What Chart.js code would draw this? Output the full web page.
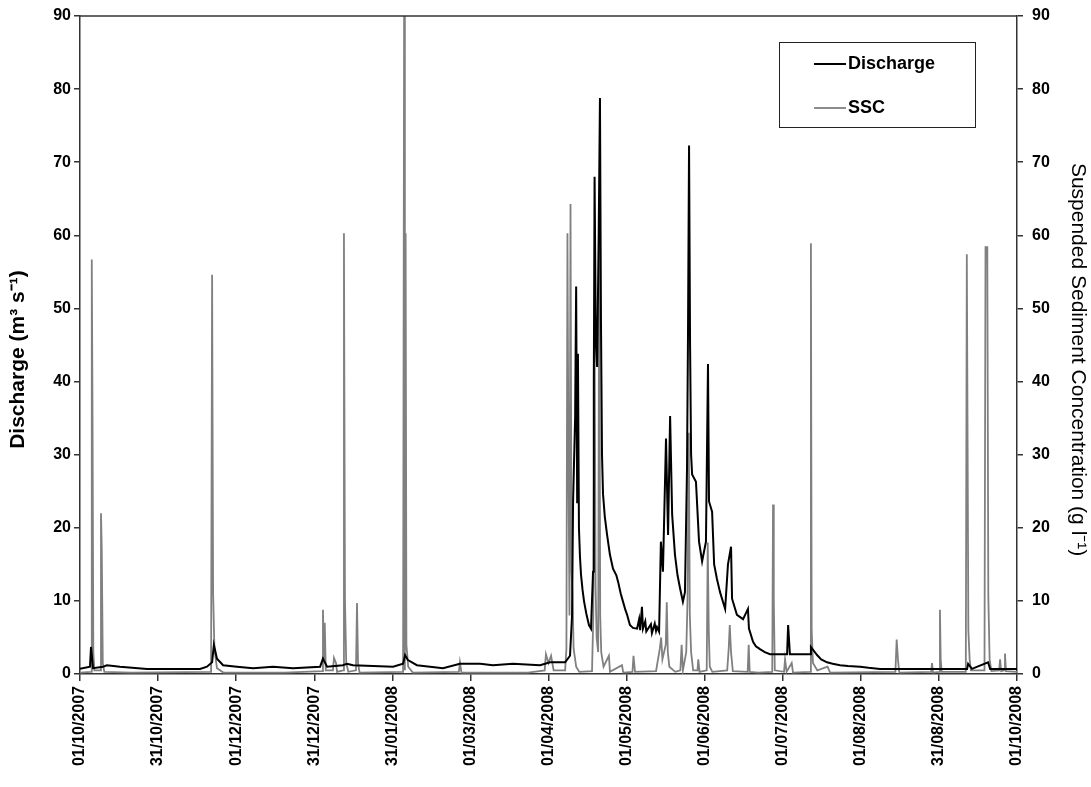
<!DOCTYPE html>
<html>
<head>
<meta charset="utf-8">
<script src="https://cdn.jsdelivr.net/npm/chart.js@4.4.1/dist/chart.umd.min.js"></script>
<style>
body { margin: 0; background: #fff; }
</style>
</head>
<body>
<canvas id="chartCanvas" width="1091" height="787"></canvas>
<script>
// x values are days since 01/10/2007
const tickDays = [0, 30.5, 61, 91.5, 122, 152.5, 183, 213.5, 244, 274.5, 305, 335.5, 366];
const tickLabels = ['01/10/2007', '31/10/2007', '01/12/2007', '31/12/2007', '31/01/2008', '01/03/2008',
    '01/04/2008', '01/05/2008', '01/06/2008', '01/07/2008', '01/08/2008', '31/08/2008', '01/10/2008'];

// Discharge (m3 s-1), [day, value]
const dischargePoints = [
    [0, 0.7], [3.9, 1.0], [4.3, 3.7], [5.1, 0.8], [9.0, 1.0], [10.5, 1.2], [15.6, 1.0], [26.2, 0.7],
    [46.9, 0.7], [49.6, 1.0], [51.6, 1.6], [52.3, 4.0], [53.5, 2.1], [55.9, 1.2], [61.3, 1.0], [67.6, 0.8],
    [75.4, 1.0], [83.2, 0.8], [93.8, 1.0], [94.9, 2.1], [96.5, 1.0], [102.7, 1.2], [104.3, 1.4], [106.6, 1.2],
    [122.3, 1.0], [126.2, 1.4], [127.0, 2.6], [128.1, 1.9], [131.6, 1.2], [141.8, 0.8], [148.4, 1.4],
    [156.3, 1.4], [161.3, 1.2], [169.1, 1.4], [179.7, 1.2], [183.6, 1.6], [189.5, 1.6], [191.4, 2.5],
    [192.2, 8], [192.6, 23.6], [193.4, 35], [193.8, 53], [194.2, 23.5], [194.5, 43.8], [194.9, 19.9],
    [195.3, 16], [195.7, 13.6], [196.3, 11.5], [196.9, 9.9], [197.8, 8.2], [198.8, 6.7], [199.6, 6.2],
    [200.4, 14], [200.7, 40], [201.0, 68], [201.5, 45], [202.0, 42], [202.6, 60], [203.1, 78.8],
    [203.5, 48], [203.9, 30], [204.3, 24.6], [205.0, 21.5], [205.9, 19], [207.0, 16.3], [208.2, 14.4],
    [209.5, 13.5], [210.2, 12.6], [211.2, 11], [212.1, 9.9], [213.0, 8.8], [213.7, 8.1], [214.8, 6.7],
    [216.0, 6.3], [217.6, 6.2], [218.4, 7.5], [218.8, 6.0], [219.5, 9.2], [219.9, 6.2], [220.8, 7.2],
    [221.2, 5.8], [223.0, 6.8], [223.4, 5.6], [224.5, 6.9], [225.0, 5.9], [225.4, 6.4], [226.2, 5.8],
    [226.9, 18.1], [227.7, 14], [228.9, 32.2], [229.7, 19], [230.5, 35.3], [231.3, 21.8], [232.4, 16.3],
    [233.4, 13.5], [234.4, 11.7], [235.5, 9.9], [236.3, 11.2], [237.1, 28], [237.5, 47], [237.9, 72.3],
    [238.3, 45], [238.7, 30], [239.1, 27.3], [240.6, 26.3], [241.8, 18.1], [243.0, 15.4], [244.5, 18.1],
    [245.3, 42.4], [245.7, 23.6], [246.9, 22.2], [247.7, 15], [248.8, 13], [250.0, 11.2], [252.0, 8.9],
    [253.1, 15], [254.3, 17.4], [254.7, 10.3], [256.6, 8.1], [259.0, 7.5], [260.9, 8.9], [261.3, 6.2],
    [262.9, 4.4], [264.0, 3.8], [265.6, 3.4], [267.5, 3.0], [269.5, 2.7], [276.2, 2.7], [276.6, 6.7],
    [277.3, 2.7], [285.2, 2.7], [285.5, 3.7], [287.9, 2.6], [289.5, 2.0], [291.8, 1.6], [294.0, 1.4],
    [296.9, 1.2], [300.0, 1.1], [304.7, 1.0], [308.0, 0.85], [312.5, 0.7], [320.3, 0.7], [330.9, 0.7],
    [346.5, 0.7], [346.9, 1.4], [348.4, 0.7], [354.7, 1.6], [355.5, 0.7], [366, 0.7]
];

// Suspended sediment concentration (g l-1), [day, value]
const sscPoints = [
    [0, 0.2], [4.3, 0.3], [4.6, 56.7], [4.9, 35], [5.2, 3], [5.6, 0.5], [7.9, 0.5], [8.2, 22], [8.5, 17],
    [8.9, 1.5], [9.5, 0.3], [20, 0.2], [51.2, 0.3], [51.6, 54.6], [52.0, 11], [52.5, 3.5], [53.5, 0.8],
    [56, 0.2], [80, 0.2], [94.6, 0.4], [94.9, 8.8], [95.3, 2], [95.6, 7], [96.0, 0.5], [98.8, 0.5],
    [99.2, 2.2], [100, 1.5], [100.4, 0.3], [102.8, 0.5], [103.1, 60.3], [103.5, 10], [104.0, 1.5],
    [104.8, 0.3], [107.8, 0.5], [108.2, 9.7], [108.6, 1.5], [109.2, 0.2], [126.2, 0.3], [126.6, 90],
    [126.9, 0.5], [127.2, 60.3], [127.5, 4], [128.2, 1], [130, 0.2], [148, 0.3], [148.4, 1.6], [149, 0.2],
    [175, 0.2], [181.5, 0.5], [182, 2.7], [183, 1.5], [184, 2.5], [185, 0.5], [189.5, 0.5], [190, 3.5],
    [190.4, 60.3], [190.8, 28], [191.2, 8], [191.6, 64.3], [192.0, 14], [192.4, 11], [192.8, 3.5],
    [193.8, 1], [195, 0.3], [200, 0.4], [200.5, 8], [201, 48], [201.4, 12], [201.8, 5], [202.4, 3],
    [202.8, 60.3], [203.2, 8], [203.6, 3], [204.5, 1], [206.6, 2.5], [207, 0.3], [211.7, 1.2], [212.2, 0.2],
    [215.8, 0.3], [216.2, 2.5], [216.8, 0.3], [225, 0.4], [226.5, 3.5], [227, 5], [227.5, 2], [228.8, 4],
    [229.2, 9.8], [229.6, 3], [230.2, 1], [232.5, 0.3], [234.5, 0.5], [235.0, 4], [235.5, 0.5], [236.8, 3],
    [237.3, 10], [237.8, 33], [238.2, 8], [238.7, 3], [239.5, 0.5], [241.2, 0.5], [241.5, 2], [242, 0.3],
    [244.8, 0.5], [245.2, 18], [245.6, 6], [246, 1], [247, 0.3], [252.8, 0.5], [253.4, 3.5], [253.8, 6.7],
    [254.3, 3], [255, 0.4], [260.8, 0.3], [261.2, 4], [261.6, 0.3], [265, 0.2], [270.4, 0.3], [270.7, 23.2],
    [271.0, 10], [271.4, 0.5], [275, 0.3], [275.4, 2], [276, 0.3], [278, 1.5], [278.5, 0.2], [285.2, 0.3],
    [285.5, 58.9], [285.8, 6], [286.3, 1.5], [288, 0.5], [292, 1], [293, 0.2], [318.5, 0.3], [319, 4.7],
    [319.5, 2], [320, 0.2], [332.5, 0.3], [332.8, 1.5], [333.2, 0.2], [335.6, 0.3], [335.9, 8.8],
    [336.2, 2], [336.6, 0.3], [346, 0.3], [346.4, 57.4], [346.7, 31.8], [347, 6], [347.5, 2], [348, 0.5],
    [353.3, 0.5], [353.7, 58.5], [354.0, 57], [354.4, 58.5], [354.8, 10.6], [355.3, 2], [356, 0.4],
    [359, 0.5], [359.4, 2], [359.8, 0.4], [361, 0.5], [361.3, 2.8], [361.7, 0.4], [366, 0.3]
];

const FONT = '"Liberation Sans", Arial, sans-serif';
const AXIS_COLOR = '#333';
const PAD = '\u00A0\u00A0\u00A0\u00A0\u00A0'; // nudges the rotated axis titles a little lower

// top border of the plot box
const frameLine = {
    id: 'frameLine',
    afterDraw(chart) {
        const { ctx, chartArea } = chart;
        ctx.save();
        ctx.strokeStyle = AXIS_COLOR;
        ctx.lineWidth = 1.5;
        ctx.beginPath();
        ctx.moveTo(chartArea.left, chartArea.top);
        ctx.lineTo(chartArea.right, chartArea.top);
        ctx.stroke();
        ctx.restore();
    }
};

// boxed legend in the top right corner
const boxLegend = {
    id: 'boxLegend',
    afterDraw(chart) {
        const ctx = chart.ctx;
        const x = 779, y = 42, w = 196, h = 85;
        ctx.save();
        ctx.fillStyle = '#fff';
        ctx.fillRect(x, y, w, h);
        ctx.strokeStyle = '#222';
        ctx.lineWidth = 1;
        ctx.strokeRect(x + 0.5, y + 0.5, w, h);
        ctx.font = 'bold 18px ' + FONT;
        ctx.textBaseline = 'middle';
        chart.data.datasets.forEach((ds, i) => {
            const ly = y + 22 + i * 44;
            ctx.strokeStyle = ds.borderColor;
            ctx.lineWidth = ds.borderWidth;
            ctx.beginPath();
            ctx.moveTo(x + 35, ly);
            ctx.lineTo(x + 67, ly);
            ctx.stroke();
            ctx.fillStyle = '#000';
            ctx.fillText(ds.label, x + 69, ly);
        });
        ctx.restore();
    }
};

// y axes: fixed width, and no extra top padding for the tick labels
function fitY(width) {
    return scale => {
        scale.width = width;
        scale.paddingTop = 0;
        scale.paddingBottom = 0;
    };
}

const ctx = document.getElementById('chartCanvas').getContext('2d');

const chart = new Chart(ctx, {
    type: 'line',
    data: {
        datasets: [{
            label: 'Discharge',
            data: dischargePoints.map(p => ({ x: p[0], y: p[1] })),
            yAxisID: 'y',
            borderColor: '#000',
            borderWidth: 2,
            pointRadius: 0,
            tension: 0
        }, {
            label: 'SSC',
            data: sscPoints.map(p => ({ x: p[0], y: p[1] })),
            yAxisID: 'y1',
            borderColor: '#808080',
            borderWidth: 1.8,
            pointRadius: 0,
            tension: 0
        }]
    },
    options: {
        responsive: false,
        animation: false,
        layout: { padding: { top: 16, left: 0, right: 0, bottom: 0 } },
        plugins: {
            legend: { display: false },
            tooltip: { enabled: false }
        },
        scales: {
            x: {
                type: 'linear',
                min: 0,
                max: 366,
                afterBuildTicks: scale => { scale.ticks = tickDays.map(v => ({ value: v })); },
                afterFit: scale => { scale.height = 113; },
                ticks: {
                    callback: (v, i) => tickLabels[i],
                    autoSkip: false,
                    maxRotation: 90,
                    minRotation: 90,
                    color: '#000',
                    padding: 5,
                    font: { family: FONT, size: 16, weight: 'bold' }
                },
                grid: { drawOnChartArea: false, tickLength: 7, color: AXIS_COLOR, lineWidth: 1.5 },
                border: { color: AXIS_COLOR, width: 1.5 }
            },
            y: {
                position: 'left',
                min: 0,
                max: 90,
                afterFit: fitY(80),
                ticks: {
                    stepSize: 10,
                    color: '#000',
                    padding: 3,
                    font: { family: FONT, size: 16, weight: 'bold' }
                },
                grid: { drawOnChartArea: false, tickLength: 6, color: AXIS_COLOR, lineWidth: 1.5 },
                border: { color: AXIS_COLOR, width: 1.5 },
                title: {
                    display: true,
                    text: 'Discharge (m\u00B3 s\u207B\u00B9)' + PAD,
                    color: '#000',
                    padding: { top: 6, bottom: 0 },
                    font: { family: FONT, size: 21, weight: 'bold' }
                }
            },
            y1: {
                position: 'right',
                min: 0,
                max: 90,
                afterFit: fitY(74),
                ticks: {
                    stepSize: 10,
                    color: '#000',
                    padding: 9,
                    font: { family: FONT, size: 16, weight: 'bold' }
                },
                grid: { drawOnChartArea: false, tickLength: 6, color: AXIS_COLOR, lineWidth: 1.5 },
                border: { color: AXIS_COLOR, width: 1.5 },
                title: {
                    display: true,
                    text: PAD + 'Suspended Sediment Concentration (g l\u207B\u00B9)',
                    color: '#000',
                    padding: { top: 1, bottom: 0 },
                    font: { family: FONT, size: 21 }
                }
            }
        }
    },
    plugins: [frameLine, boxLegend]
});
</script>
</body>
</html>
